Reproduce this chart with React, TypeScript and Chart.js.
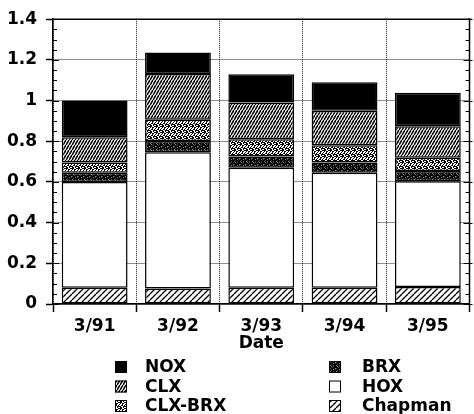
import React, { useEffect, useRef } from "react";
import { Chart, registerables } from "chart.js";

Chart.register(...registerables);

// ---- data ----
const categories = ["3/91", "3/92", "3/93", "3/94", "3/95"];
const chapman = [0.08, 0.076, 0.08, 0.08, 0.084];
const hox = [0.52, 0.67, 0.59, 0.565, 0.52];
const brx = [0.045, 0.055, 0.055, 0.05, 0.05];
const clxBrx = [0.05, 0.105, 0.085, 0.085, 0.065];
const clx = [0.125, 0.225, 0.18, 0.17, 0.155];
const nox = [0.18, 0.105, 0.14, 0.14, 0.165];
const seriesNames = ["Chapman", "HOX", "BRX", "CLX-BRX", "CLX", "NOX"];
const legendColumns = [
  ["NOX", "CLX", "CLX-BRX"],
  ["BRX", "HOX", "Chapman"],
];
const xTitle = "Date";
const yMin = 0;
const yMax = 1.4;
const yStep = 0.2;
const yMinorStep = 0.05;

const FONT = "'DejaVu Sans', sans-serif";

function pixelTile(rows: string[]) {
  const h = rows.length;
  const w = rows[0].length;
  const c = document.createElement("canvas");
  c.width = w;
  c.height = h;
  const g = c.getContext("2d")!;
  g.fillStyle = "#fff";
  g.fillRect(0, 0, w, h);
  for (let r = 0; r < h; r++)
    for (let k = 0; k < w; k++) {
      const ch = rows[r][k];
      if (ch === "#") g.fillStyle = "#000";
      else if (ch === "+") g.fillStyle = "#8a8a8a";
      else if (ch === "-") g.fillStyle = "#444";
      else continue;
      g.fillRect(k, r, 1, 1);
    }
  return g.createPattern(c, "repeat")!;
}

function hatchTile(w: number, h: number, lw: number) {
  const c = document.createElement("canvas");
  c.width = w;
  c.height = h;
  const g = c.getContext("2d")!;
  g.fillStyle = "#fff";
  g.fillRect(0, 0, w, h);
  g.strokeStyle = "#000";
  g.lineWidth = lw;
  for (let k = -1; k <= 1; k++) {
    g.beginPath();
    g.moveTo(0, h + k * h);
    g.lineTo(w, k * h);
    g.stroke();
  }
  return g.createPattern(c, "repeat")!;
}

export default function App() {
  const ref = useRef<HTMLCanvasElement | null>(null);

  useEffect(() => {
    const canvas = ref.current;
    if (!canvas) return;

    const fills: Record<string, any> = {
      Chapman: hatchTile(6, 6, 1.3),
      HOX: "#ffffff",
      BRX: pixelTile(["#+#-##", "##-###", "-####+", "###+#-", "#-####", "+##-##"]),
      "CLX-BRX": pixelTile(["##..##", "#.##..", "..#..#", ".##.#.", "#..###", "##.#.."]),
      CLX: hatchTile(3, 5, 1.6),
      NOX: "#000000",
    };
    const values: Record<string, number[]> = {
      Chapman: chapman,
      HOX: hox,
      BRX: brx,
      "CLX-BRX": clxBrx,
      CLX: clx,
      NOX: nox,
    };

    const framePlugin = {
      id: "frameAndLegend",
      afterDraw(chart: any) {
        const { ctx, chartArea } = chart;
        const { left, right, top, bottom } = chartArea;
        const y = chart.scales.y;
        ctx.save();
        ctx.strokeStyle = "#000";
        ctx.lineWidth = 1.5;
        ctx.beginPath();
        ctx.moveTo(left, top);
        ctx.lineTo(right + 2, top);
        ctx.moveTo(right, top - 1);
        ctx.lineTo(right, bottom);
        ctx.stroke();
        ctx.lineWidth = 1;
        const n = Math.round((yMax - yMin) / yMinorStep);
        for (let i = 0; i <= n; i++) {
          const v = yMin + i * yMinorStep;
          const major = i % Math.round(yStep / yMinorStep) === 0;
          const py = Math.round(y.getPixelForValue(v)) + 0.5;
          const len = major ? 6 : 4;
          ctx.beginPath();
          ctx.moveTo(left, py);
          ctx.lineTo(left + len, py);
          ctx.moveTo(right - len, py);
          ctx.lineTo(right + (major ? 3 : 0), py);
          ctx.stroke();
        }
        // legend
        const colX = [[115, 145], [329, 362]];
        const rowY = [367, 386.5, 406];
        ctx.font = `bold 17px ${FONT}`;
        ctx.textBaseline = "middle";
        ctx.textAlign = "left";
        legendColumns.forEach((col, ci) => {
          col.forEach((name, ri) => {
            const sx = colX[ci][0];
            const sy = rowY[ri] - 6;
            ctx.fillStyle = fills[name];
            ctx.fillRect(sx, sy, 12, 12);
            ctx.strokeStyle = "#000";
            ctx.lineWidth = 1;
            ctx.strokeRect(sx + 0.5, sy + 0.5, 11, 11);
            ctx.fillStyle = "#000";
            ctx.fillText(name, colX[ci][1], rowY[ri] + 1);
          });
        });
        ctx.restore();
      },
    };

    const chart = new Chart(canvas, {
      type: "bar",
      data: {
        labels: categories,
        datasets: seriesNames.map((name) => ({
          label: name,
          data: values[name],
          backgroundColor: fills[name],
          borderColor: "#000",
          borderWidth: 1.5,
          borderSkipped: false,
          barPercentage: 0.79,
          categoryPercentage: 1,
        })),
      },
      options: {
        animation: false,
        responsive: false,
        layout: { padding: { left: 0, right: 4.5, top: 15, bottom: 60 } },
        plugins: { legend: { display: false }, tooltip: { enabled: false } },
        scales: {
          x: {
            stacked: true,
            afterFit: (s: any) => {
              s.height = 50;
            },
            grid: {
              color: "#222",
              lineWidth: 1,
              tickLength: 8,
              tickColor: "#000",
              tickWidth: 1.5,
              offset: true,
            },
            border: { display: true, color: "#000", width: 1.5, dash: [1, 1] },
            ticks: {
              color: "#000",
              font: { family: FONT, weight: "bold", size: 17 },
              padding: 4,
              maxRotation: 0,
            },
            title: {
              display: true,
              text: xTitle,
              color: "#000",
              font: { family: FONT, weight: "bold", size: 17 },
              padding: { top: 0, bottom: 0 },
            },
          },
          y: {
            stacked: true,
            min: yMin,
            max: yMax,
            afterFit: (s: any) => {
              s.width = 53;
            },
            grid: {
              color: "#222",
              lineWidth: 1,
              tickLength: 7,
              tickColor: "#000",
              tickWidth: 1.5,
            },
            border: { display: true, color: "#000", width: 1.5, dash: [1, 1] },
            ticks: {
              stepSize: yStep,
              color: "#000",
              font: { family: FONT, weight: "bold", size: 17 },
              padding: 9,
              callback: (v: any) => String(Number(Number(v).toFixed(1))),
            },
          },
        },
      },
      plugins: [framePlugin],
    });
    return () => chart.destroy();
  }, []);

  return (
    <div style={{ position: "fixed", left: 0, top: 0, width: 474, height: 414, background: "#fff" }}>
      <canvas ref={ref} width={474} height={414} style={{ display: "block" }} />
    </div>
  );
}
